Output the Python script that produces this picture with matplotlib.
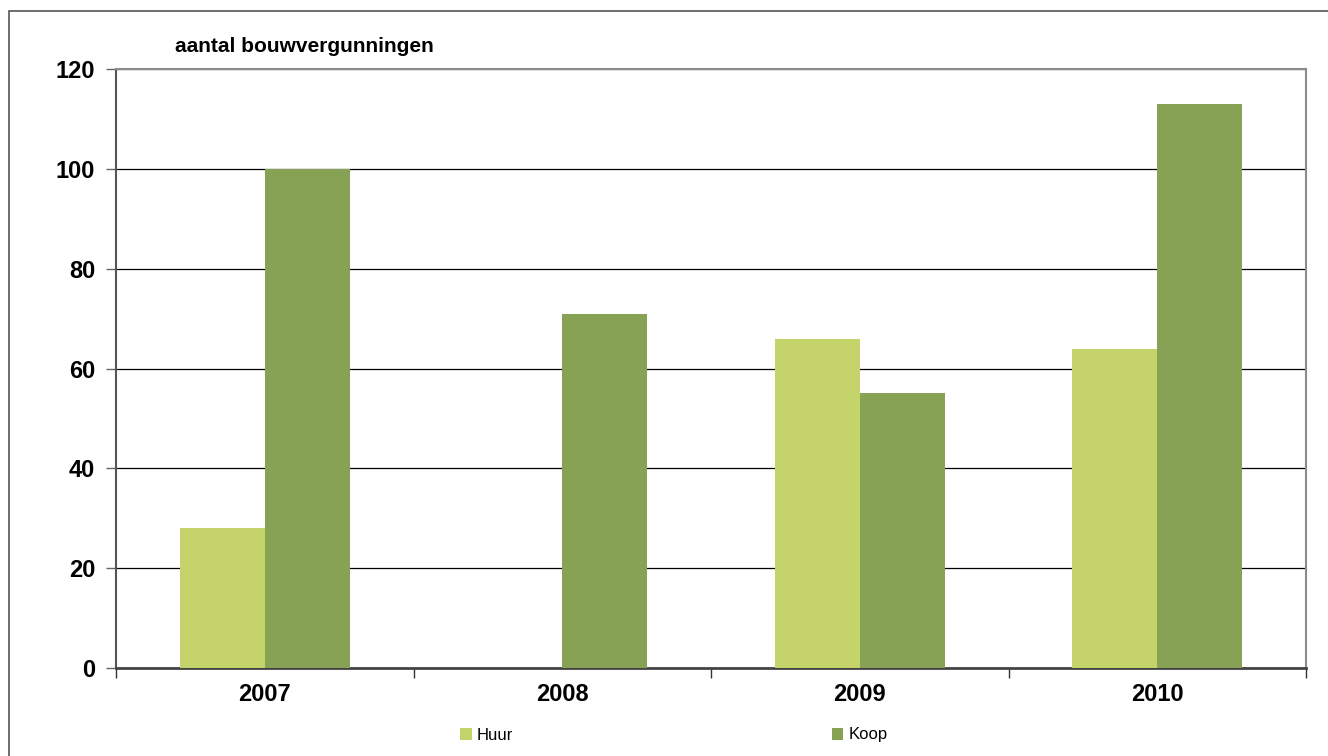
import matplotlib
matplotlib.use("Agg")
import matplotlib.pyplot as plt
from matplotlib.patches import Rectangle
import numpy as np

# data
years = ["2007", "2008", "2009", "2010"]
huur = [28, 0, 66, 64]
koop = [100, 71, 55, 113]
y_ticks = [0, 20, 40, 60, 80, 100, 120]

plt.rcParams["font.family"] = ["Liberation Sans", "DejaVu Sans"]

W, H = 1328, 756
fig = plt.figure(figsize=(W / 100, H / 100), dpi=100)
ax = fig.add_axes([116 / W, 1 - 668 / H, (1306 - 116) / W, (668 - 69) / H])

x = np.arange(len(years))
bw = 0.286
ax.bar(x - bw / 2, huur, bw, color="#C4D46A", label="Huur", zorder=3)
ax.bar(x + bw / 2, koop, bw, color="#87A255", label="Koop", zorder=3)

ax.set_xlim(-0.5, len(years) - 0.5)
ax.set_ylim(0, 120)
ax.set_yticks(y_ticks)
ax.yaxis.grid(True, color="black", linewidth=0.9, zorder=0)
ax.set_axisbelow(True)

# category labels in the middle, tick marks on the boundaries
ax.set_xticks(x)
ax.set_xticklabels(years, fontsize=17, fontweight="bold")
ax.set_xticks(np.arange(-0.5, len(years)), minor=True)
ax.tick_params(axis="x", which="major", length=0, pad=11)
ax.tick_params(axis="x", which="minor", length=7, width=1, color="#333333")
ax.tick_params(axis="y", length=7, width=1, color="#666666", pad=8)
for lbl in ax.get_yticklabels():
    lbl.set_fontsize(17)
    lbl.set_fontweight("bold")

for side in ["top", "right"]:
    ax.spines[side].set_color("#8c8c8c")
    ax.spines[side].set_linewidth(1.5)
ax.spines["left"].set_color("#555555")
ax.spines["left"].set_linewidth(1.5)
ax.spines["bottom"].set_color("#444444")
ax.spines["bottom"].set_linewidth(2)

fig.text(175 / W, 1 - 47 / H, "aantal bouwvergunningen", fontsize=15,
         fontweight="bold", va="center", ha="left")

leg = fig.legend(loc="center", bbox_to_anchor=(0.5 + 10 / W, 1 - 735 / H), ncol=2,
                 frameon=False, fontsize=12, handlelength=0.7, handleheight=0.7,
                 handletextpad=0.3, columnspacing=19.1)

# outer chart frame
fig.patches.append(Rectangle((9 / W, -0.05), 1.2, 1.05 - 11 / H, transform=fig.transFigure,
                             fill=False, edgecolor="#555555", linewidth=1.2))

fig.savefig("out.png", dpi=100)
